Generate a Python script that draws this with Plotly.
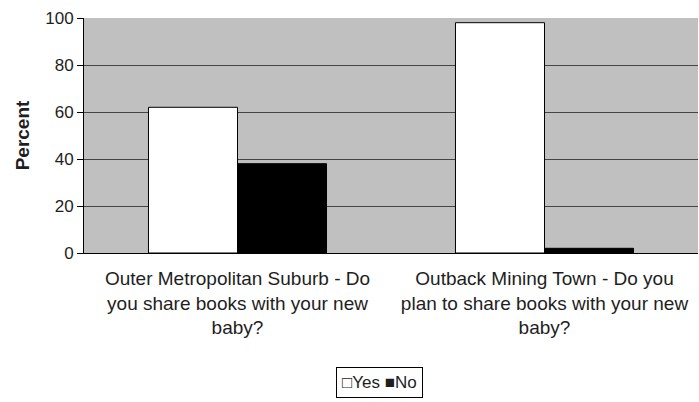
import plotly.graph_objects as go

categories = ["Outer Metropolitan Suburb - Do<br>you share books with your new<br>baby?",
              "Outback Mining Town - Do you<br>plan to share books with your new<br>baby?"]
yes_vals = [62, 98]
no_vals = [38, 2]
y_ticks = [0, 20, 40, 60, 80, 100]
series_names = ["Yes", "No"]

FONT = "Arial, 'Liberation Sans', sans-serif"
TXT = "#1e1e1e"

fig = go.Figure()
fig.add_trace(go.Bar(name=series_names[0], x=categories, y=yes_vals,
                     marker=dict(color="white", line=dict(color="black", width=1))))
fig.add_trace(go.Bar(name=series_names[1], x=categories, y=no_vals,
                     marker=dict(color="black", line=dict(color="black", width=1))))

# legend drawn as a boxed text entry (matches the small square swatches of the original)
fig.add_annotation(
    xref="paper", yref="paper", x=0.482, y=-0.549, xanchor="center", yanchor="middle",
    text="\u25a1" + series_names[0] + " \u25a0" + series_names[1],
    showarrow=False, font=dict(family=FONT, size=17, color=TXT),
    bordercolor="black", borderwidth=1, borderpad=5, bgcolor="white",
)

fig.update_layout(
    width=699, height=402,
    barmode="group", bargap=0.42, bargroupgap=0,
    plot_bgcolor="#c0c0c0", paper_bgcolor="white",
    margin=dict(l=84, r=1, t=18, b=149, autoexpand=False),
    font=dict(family=FONT, size=19, color=TXT),
    showlegend=False,
    xaxis=dict(showline=True, linecolor="black", linewidth=1, ticks="",
               tickfont=dict(size=19, color=TXT), automargin=False,
               ticklabelstandoff=8),
    yaxis=dict(range=[0, 100], tickvals=y_ticks, showgrid=True,
               gridcolor="#454545", gridwidth=1, showline=True, linecolor="black",
               ticks="outside", ticklen=6, tickcolor="black",
               tickfont=dict(size=17, color=TXT), automargin=False,
               title=dict(text="<b>Percent</b>", font=dict(size=19, color=TXT), standoff=10),
               zeroline=False),
)
fig.write_html("out.html", config={"displayModeBar": False},
               post_script="document.body.style.margin='0';")
